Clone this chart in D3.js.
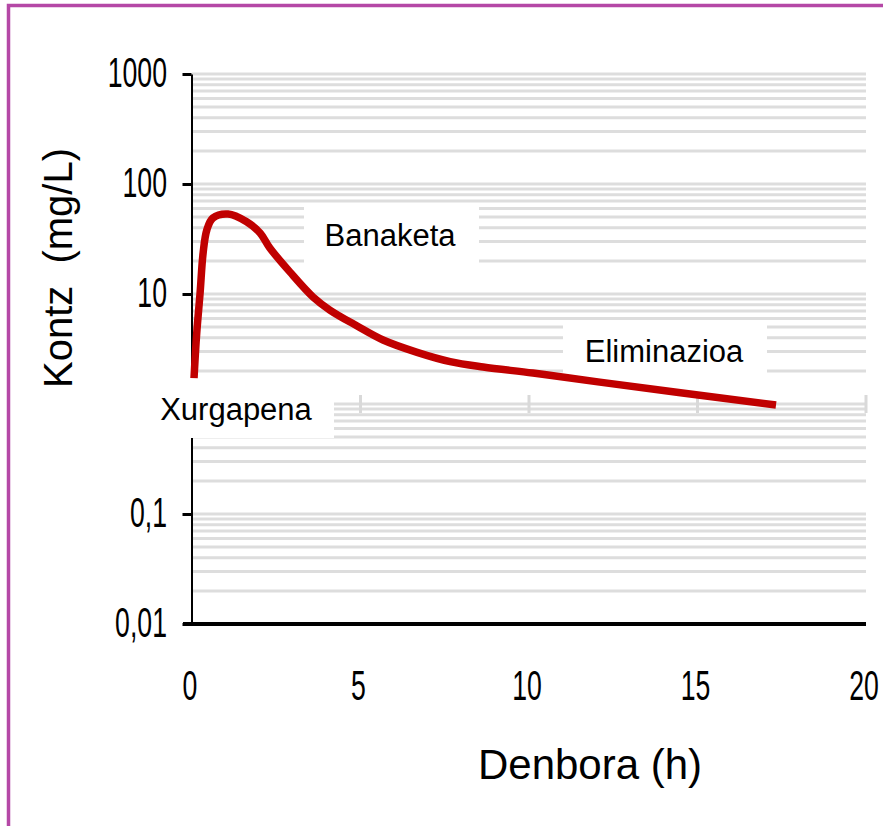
<!DOCTYPE html>
<html>
<head>
<meta charset="utf-8">
<script src="https://cdn.jsdelivr.net/npm/d3@7"></script>
<style>
  html, body { margin: 0; padding: 0; background: #ffffff; }
  svg { display: block; }
  text { white-space: pre; }
</style>
</head>
<body>
<svg id="chart" width="883" height="826"></svg>
<script>
// Concentration–time curve (log scale)
const timeH   = [0.06, 0.14, 0.24, 0.33, 0.44, 0.62, 1.07, 1.62, 2.02, 2.31, 2.91, 3.59, 4.09, 4.90, 5.67, 6.68, 7.66, 8.64, 10.12, 12.1, 17.33];
const concMgL = [1.72, 4.4, 10.2, 23.6, 38.2, 49.1, 53.4, 45.4, 35.9, 26.2, 15.8, 9.4, 7.15, 5.12, 3.82, 2.95, 2.43, 2.17, 1.91, 1.58, 0.98];

const xTickValues = [0, 5, 10, 15, 20];
const xTickLabels = ["0", "5", "10", "15", "20"];
const yTickValues = [0.01, 0.1, 1, 10, 100, 1000];
const yTickLabels = ["0,01", "0,1", "1", "10", "100", "1000"];

const phaseLabels = ["Xurgapena", "Banaketa", "Eliminazioa"];
const xTitle = "Denbora (h)";
const yTitle = "Kontz  (mg/L)";

const svg = d3.select("#chart");

const x = d3.scaleLinear().domain([0, 20]).range([192, 866]);
const y = d3.scaleLog().domain([0.01, 1000]).range([624, 74]);

// outer frame
svg.append("rect")
  .attr("x", 8.5).attr("y", 5.5)
  .attr("width", 900).attr("height", 900)
  .attr("fill", "none")
  .attr("stroke", "#b548a6")
  .attr("stroke-width", 3.5);

// horizontal gridlines (1..9 per decade)
svg.append("g").selectAll("line")
  .data(y.ticks().filter(v => v > 0.0101))
  .join("line")
  .attr("x1", x(0)).attr("x2", x(20))
  .attr("y1", d => y(d)).attr("y2", d => y(d))
  .attr("stroke", "#dddddd")
  .attr("stroke-width", 3);

// x axis crossing at 1 (light cross ticks)
svg.append("g").selectAll("line")
  .data(xTickValues.filter(v => v > 0))
  .join("line")
  .attr("x1", d => x(d)).attr("x2", d => x(d))
  .attr("y1", y(1) - 9).attr("y2", y(1) + 9)
  .attr("stroke", "#d9d9d9")
  .attr("stroke-width", 3);

// y axis
const yAxis = svg.append("g")
  .attr("transform", `translate(${x(0) - 0.5},0)`)
  .call(d3.axisLeft(y).tickValues(yTickValues).tickFormat("").tickSize(9).tickSizeOuter(0));
yAxis.select(".domain").attr("stroke", "#000").attr("stroke-width", 2);
yAxis.selectAll(".tick line").attr("stroke", "#000").attr("stroke-width", 3);

// bottom baseline
svg.append("line")
  .attr("x1", x(0) - 9).attr("x2", x(20))
  .attr("y1", y(0.01)).attr("y2", y(0.01))
  .attr("stroke", "#000").attr("stroke-width", 4);

// condensed tick labels (the "1" label sits under the Xurgapena box)
const tickFont = "Liberation Sans, Arial, sans-serif";
svg.append("g").selectAll("text")
  .data(yTickValues.map((v, i) => ({ v, label: yTickLabels[i] })).filter(d => d.v !== 1))
  .join("text")
  .attr("transform", d => `translate(167,${y(d.v) + 13}) scale(0.62,1)`)
  .attr("text-anchor", "end")
  .attr("font-family", tickFont)
  .attr("font-size", 43)
  .attr("fill", "#000")
  .text(d => d.label);

svg.append("g").selectAll("text")
  .data(xTickValues)
  .join("text")
  .attr("transform", d => `translate(${x(d) - 2},700) scale(0.62,1)`)
  .attr("text-anchor", "middle")
  .attr("font-family", tickFont)
  .attr("font-size", 43)
  .attr("fill", "#000")
  .text((d, i) => xTickLabels[i]);

// phase label boxes
const boxes = [
  { x0: 140, x1: 334, y0: 378, y1: 438 },
  { x0: 304, x1: 479, y0: 207, y1: 268 },
  { x0: 563, x1: 767, y0: 320, y1: 374 }
];
svg.append("g").selectAll("rect")
  .data(boxes)
  .join("rect")
  .attr("x", d => d.x0).attr("y", d => d.y0)
  .attr("width", d => d.x1 - d.x0).attr("height", d => d.y1 - d.y0)
  .attr("fill", "#ffffff");

// concentration curve
const pts = timeH.map((t, i) => [t, concMgL[i]]);
svg.append("path")
  .datum(pts)
  .attr("fill", "none")
  .attr("stroke", "#c00000")
  .attr("stroke-width", 7.5)
  .attr("d", d3.line().x(d => x(d[0])).y(d => y(d[1])).curve(d3.curveCatmullRom.alpha(0.5)));

// phase labels
const labelPos = [[236, 420], [390, 246], [664, 362]];
svg.append("g").selectAll("text")
  .data(phaseLabels)
  .join("text")
  .attr("x", (d, i) => labelPos[i][0])
  .attr("y", (d, i) => labelPos[i][1])
  .attr("text-anchor", "middle")
  .attr("font-family", "Liberation Sans, Arial, sans-serif")
  .attr("font-size", 31)
  .attr("fill", "#000")
  .text(d => d);

// axis titles
svg.append("text")
  .attr("x", 590).attr("y", 779)
  .attr("text-anchor", "middle")
  .attr("font-family", "Liberation Sans, Arial, sans-serif")
  .attr("font-size", 42)
  .attr("fill", "#000")
  .text(xTitle);

svg.append("text")
  .attr("transform", "translate(72,268) rotate(-90)")
  .attr("text-anchor", "middle")
  .attr("font-family", "Liberation Sans, Arial, sans-serif")
  .attr("font-size", 40)
  .attr("fill", "#000")
  .text(yTitle);
</script>
</body>
</html>
